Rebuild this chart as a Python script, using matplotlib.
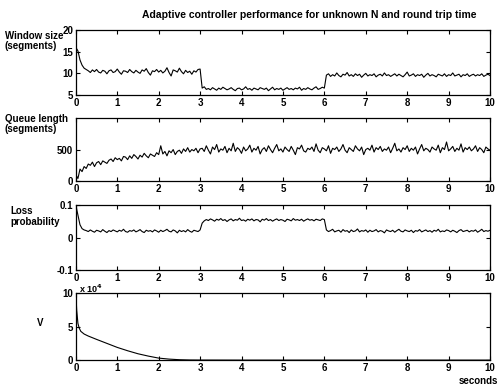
import numpy as np
import matplotlib
matplotlib.use("Agg")
import matplotlib.pyplot as plt

plt.rcParams['font.family'] = ['Liberation Sans', 'DejaVu Sans']
plt.rcParams['font.weight'] = 'bold'
plt.rcParams['font.size'] = 7

# window size (segments), sampled every 0.05 s from 0 to 10
window = [16.0, 15.2, 13.1, 11.9, 11.2, 10.9,
          10.6, 10.2, 10.8, 10.4, 10.9, 10.3, 10.1, 10.7, 10.5, 9.9,
          10.6, 10.8, 10.2, 10.4, 11.0, 10.3, 9.8, 10.6, 10.5, 10.2,
          10.9, 10.4, 10.1, 10.7, 10.3, 10.0, 10.8, 10.5, 11.1, 10.2,
          9.6, 10.6, 10.4, 10.9, 10.3, 10.7, 10.1, 10.5, 11.3, 10.2,
          9.4, 10.8, 10.6, 10.3, 11.2, 10.4, 9.9, 10.7, 10.2, 10.5,
          9.8, 10.6, 10.3, 10.9, 11.0,
          6.6, 6.9, 6.3, 6.5, 6.2, 6.7, 6.4, 6.1, 6.6, 6.3,
          6.8, 6.5, 6.2, 6.4, 6.7, 6.3, 6.0, 6.5, 6.6, 6.2,
          6.4, 6.9, 6.3, 6.5, 6.1, 6.6, 6.4, 6.2, 6.7, 6.5,
          6.3, 6.6, 6.0, 6.4, 6.8, 6.2, 6.5, 6.3, 6.6, 6.1,
          6.4, 6.7, 6.3, 6.5, 6.2, 6.6, 6.4, 6.8, 6.1, 6.5,
          6.3, 6.7, 6.4, 6.2, 6.6, 6.9, 6.3, 6.5, 6.8, 6.6,
          9.6, 9.9, 9.3, 9.7, 9.4, 10.1, 9.5, 9.2, 9.8, 9.6,
          10.2, 9.4, 9.7, 9.3, 9.9, 9.5, 9.8, 9.1, 9.6, 10.0,
          9.4, 9.7, 9.5, 9.9, 9.2, 9.6, 9.8, 9.4, 10.1, 9.5,
          9.7, 9.3, 9.6, 9.9, 9.4, 9.8, 9.5, 9.2, 9.7, 10.3,
          9.4, 9.6, 9.9, 9.3, 9.7, 9.5, 9.8, 9.1, 9.6, 10.0,
          9.4, 9.7, 9.5, 9.2, 9.8, 9.6, 9.4, 9.9, 9.3, 9.7,
          9.5, 10.1, 9.4, 9.6, 9.8, 9.2, 9.7, 9.5, 9.9, 9.3,
          9.6, 9.8, 9.4, 9.7, 9.5, 9.9, 9.3, 9.6, 9.8, 9.5]

# queue length (segments)
queue = [100, 40, 190, 150, 230, 200, 270, 250, 300, 230, 290, 310, 260, 320,
         300, 280, 330, 350, 310, 370, 340,
         360, 320, 390, 380, 340, 400, 360, 420, 390, 350,
         410, 380, 440, 400, 370, 430, 410, 390, 450, 420,
         560, 430, 470, 400, 480, 450, 500, 420, 470, 490,
         440, 510, 470, 530, 460, 500, 480, 520, 450, 510,
         520, 470, 560, 490, 430, 540, 500, 580, 460, 510,
         490, 550, 450, 520, 480, 600, 470, 530, 500, 440,
         540, 480, 510, 570, 460, 520, 490, 550, 430, 500,
         530, 470, 560, 500, 450, 520, 580, 480, 510, 460,
         540, 500, 470, 550, 490, 420, 530, 510, 570, 480,
         460, 520, 500, 540, 470, 590, 490, 450, 530, 510,
         480, 560, 440, 520, 500, 540, 470, 510, 580, 490,
         450, 530, 500, 470, 560, 510, 480, 540, 420, 500,
         520, 490, 570, 460, 530, 500, 550, 470, 510, 490,
         540, 450, 520, 600, 480, 510, 460, 530, 500, 560,
         470, 520, 490, 540, 430, 510, 580, 480, 520, 500,
         460, 540, 510, 490, 570, 450, 530, 500, 620, 480,
         510, 550, 470, 520, 490, 590, 460, 530, 500, 540,
         480, 510, 560, 470, 530, 500, 450, 540, 510, 490]

# loss probability
loss = [0.1, 0.07, 0.04, 0.028, 0.024,
        0.022, 0.019, 0.024, 0.020, 0.017, 0.023, 0.021, 0.018, 0.025, 0.020,
        0.016, 0.022, 0.019, 0.024, 0.021, 0.018, 0.023, 0.020, 0.026, 0.019,
        0.017, 0.022, 0.020, 0.024, 0.018, 0.021, 0.025, 0.019, 0.016, 0.023,
        0.020, 0.022, 0.018, 0.024, 0.021, 0.017, 0.023, 0.019, 0.022, 0.026,
        0.020, 0.018, 0.024, 0.021, 0.015, 0.023, 0.019, 0.022, 0.018, 0.025,
        0.020, 0.017, 0.023, 0.021, 0.019, 0.024,
        0.045, 0.052, 0.056, 0.053, 0.058, 0.055, 0.051, 0.057, 0.054, 0.059,
        0.053, 0.056, 0.050, 0.055, 0.058, 0.052, 0.056, 0.054, 0.060, 0.053,
        0.055, 0.051, 0.057, 0.054, 0.058, 0.052, 0.056, 0.055, 0.049, 0.057,
        0.054, 0.059, 0.053, 0.056, 0.051, 0.055, 0.058, 0.053, 0.056, 0.054,
        0.050, 0.057, 0.055, 0.052, 0.059, 0.054, 0.056, 0.053, 0.057, 0.051,
        0.055, 0.058, 0.054, 0.056, 0.052, 0.057, 0.055, 0.053, 0.058, 0.056,
        0.024, 0.019, 0.022, 0.026, 0.018, 0.021, 0.023, 0.017, 0.025, 0.020,
        0.022, 0.016, 0.024, 0.019, 0.021, 0.027, 0.018, 0.022, 0.020, 0.024,
        0.017, 0.023, 0.019, 0.021, 0.025, 0.018, 0.022, 0.020, 0.015, 0.024,
        0.021, 0.019, 0.023, 0.017, 0.022, 0.026, 0.020, 0.018, 0.024, 0.021,
        0.019, 0.023, 0.016, 0.022, 0.020, 0.025, 0.018, 0.021, 0.024, 0.019,
        0.022, 0.017, 0.023, 0.020, 0.026, 0.018, 0.021, 0.019, 0.024, 0.022,
        0.018, 0.023, 0.020, 0.016, 0.022, 0.025, 0.019, 0.021, 0.023, 0.018,
        0.022, 0.020, 0.024, 0.017, 0.021, 0.026, 0.019, 0.022, 0.020, 0.023]

# V (x 10^4)
v_t = [0, 0.02, 0.05, 0.08, 0.12, 0.2, 0.3, 0.5, 0.75, 1.0, 1.25, 1.5,
       1.75, 2.0, 2.25, 2.5, 2.75, 3.0, 4, 5, 6, 7, 8, 9, 10]
v = [10, 7.5, 5.5, 4.8, 4.3, 3.9, 3.6, 3.1, 2.5, 1.9, 1.4, 0.95,
     0.6, 0.3, 0.15, 0.06, 0.02, 0.01, 0, 0, 0, 0, 0, 0, 0]

t = np.linspace(0, 10, len(window))
tq = np.linspace(0, 10, len(queue))
tl = np.linspace(0, 10, len(loss))

fig = plt.figure(figsize=(4.99, 3.91), dpi=100)
left, width = 0.152, 0.830
boxes = [(0.757, 0.166), (0.537, 0.161), (0.309, 0.166), (0.079, 0.171)]
axes = [fig.add_axes([left, b, width, h]) for b, h in boxes]

axes[0].plot(t, window, color='black', lw=0.8)
axes[0].set_ylim(5, 20)
axes[0].set_yticks([5, 10, 15, 20])

axes[1].plot(tq, queue, color='black', lw=0.8)
axes[1].set_ylim(0, 1000)
axes[1].set_yticks([0, 500])

axes[2].plot(tl, loss, color='black', lw=0.8)
axes[2].set_ylim(-0.1, 0.1)
axes[2].set_yticks([-0.1, 0, 0.1])
axes[2].set_yticklabels(['-0.1', '0', '0.1'])

axes[3].plot(v_t, v, color='black', lw=0.8)
axes[3].set_ylim(0, 10)
axes[3].set_yticks([0, 5, 10])

for ax in axes:
    ax.set_xlim(0, 10)
    ax.set_xticks(range(11))
    ax.tick_params(direction='in', top=True, right=True, length=3,
                   width=0.8, pad=2, labelsize=7)
    for s in ax.spines.values():
        s.set_linewidth(0.9)

fig.text(0.62, 0.962, 'Adaptive controller performance for unknown N and round trip time',
         ha='center', va='center', fontsize=7.5, fontweight='bold')
fig.text(0.01, 0.895, 'Window size\n(segments)', ha='left', va='center',
         fontsize=7, fontweight='bold', linespacing=1.1)
fig.text(0.01, 0.683, 'Queue length\n(segments)', ha='left', va='center',
         fontsize=7, fontweight='bold', linespacing=1.1)
fig.text(0.02, 0.447, 'Loss\nprobability', ha='left', va='center',
         fontsize=7, fontweight='bold', linespacing=1.1)
fig.text(0.074, 0.175, 'V', ha='left', va='center', fontsize=7, fontweight='bold')
fig.text(0.158, 0.262, r'x 10$^4$', ha='left', va='center', fontsize=6.5)
fig.text(0.998, 0.025, 'seconds', ha='right', va='center', fontsize=7, fontweight='bold')

fig.savefig('out.png', dpi=100)
